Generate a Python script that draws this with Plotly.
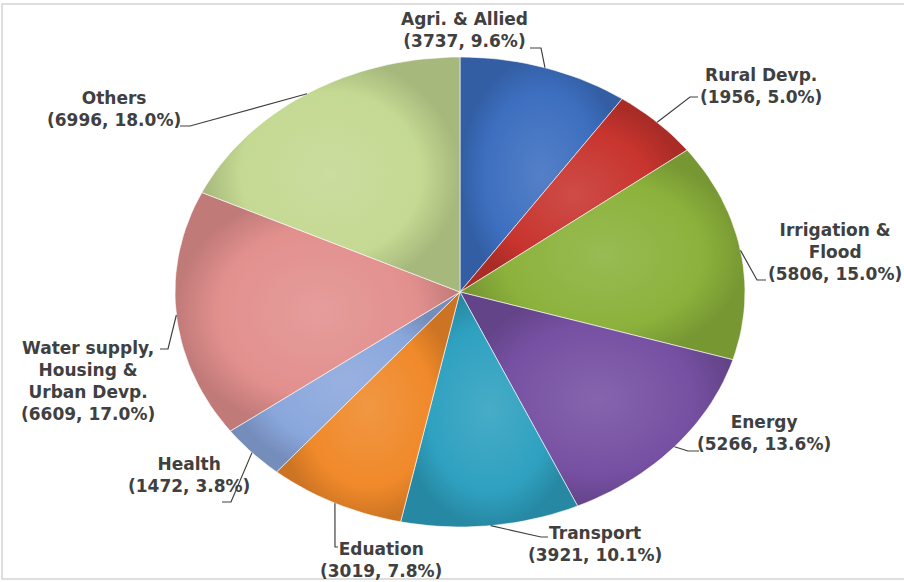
import numpy as np
import plotly.graph_objects as go

# Plan outlay by sector (Rs. crore), clockwise from 12 o'clock
sectors = ["Agri. & Allied", "Rural Devp.", "Irrigation &<br>Flood", "Energy",
           "Transport", "Eduation", "Health",
           "Water supply,<br>Housing &<br>Urban Devp.", "Others"]
outlay = [3737, 1956, 5806, 5266, 3921, 3019, 1472, 6609, 6996]
share_pct = [9.6, 5.0, 15.0, 13.6, 10.1, 7.8, 3.8, 17.0, 18.0]
colors = ["#3d6fc0", "#c8342e", "#8cb23c", "#7650a2", "#2fa1c0",
          "#f0892a", "#8aa7dc", "#e2908e", "#c4d992"]

# Canvas is laid out in pixel units; the pie is drawn as a tilted (elliptical) disc
W, H = 904, 582
CX, CY, RX, RY = 460, 292, 285, 235

# Label block centres and leader-line points on the label side
label_pos = [(464, 30), (761, 86), (835, 252), (764, 433), (595, 544),
             (381, 560), (189, 475), (88, 381), (114, 109)]
leader_start = [[(530, 48), (541, 48)], [(698, 97), (690, 97)],
                [(766, 280), (757, 280)], [(699, 451), (688, 451)],
                [(548, 537), (541, 537)], [(338, 547), (335, 547)],
                [(222, 502), (231, 502)], [(160, 349), (168, 349)],
                [(180, 126), (190, 126)]]


def ellipse_pt(theta):
    return CX + RX * np.sin(theta), CY - RY * np.cos(theta)


def shade(hex_col, f):
    r, g, b = (int(hex_col[i:i + 2], 16) for i in (1, 3, 5))
    if f >= 0:
        r, g, b = (c + (255 - c) * f for c in (r, g, b))
    else:
        r, g, b = (c * (1 + f) for c in (r, g, b))
    return f"rgb({int(r)},{int(g)},{int(b)})"


fig = go.Figure()
total = sum(outlay)
cum = 0.0
mids = []
for name, val, col in zip(sectors, outlay, colors):
    a0 = 2 * np.pi * cum / total
    a1 = 2 * np.pi * (cum + val) / total
    mids.append((a0 + a1) / 2)
    t = np.linspace(a0, a1, max(8, int(200 * val / total)))
    ex, ey = ellipse_pt(t)
    xs = np.concatenate([[CX], ex, [CX]])
    ys = np.concatenate([[CY], ey, [CY]])
    fig.add_trace(go.Scatter(
        x=xs, y=ys, mode="lines", fill="toself",
        fillcolor=col,
        fillgradient=dict(type="radial",
                          colorscale=[[0, shade(col, 0.12)], [0.7, col], [1, shade(col, -0.15)]]),
        line=dict(color="rgba(255,255,255,0.6)", width=1),
        hoverinfo="skip", showlegend=False))
    cum += val

# Leader lines from each label to the mid-angle point on the rim
for pts, m in zip(leader_start, mids):
    px, py = ellipse_pt(m)
    lx = [p[0] for p in pts] + [px]
    ly = [p[1] for p in pts] + [py]
    fig.add_trace(go.Scatter(x=lx, y=ly, mode="lines",
                             line=dict(color="#404040", width=1.2),
                             hoverinfo="skip", showlegend=False))

for name, val, pct, (lx, ly) in zip(sectors, outlay, share_pct, label_pos):
    fig.add_annotation(x=lx, y=ly, xref="x", yref="y", showarrow=False,
                       text=f"<b>{name}<br>({val}, {pct:.1f}%)</b>",
                       align="center", xanchor="center", yanchor="middle",
                       font=dict(family="DejaVu Sans", size=17, color="#404040"))

fig.add_shape(type="rect", xref="x", yref="y", x0=2, y0=4, x1=W + 5, y1=579,
              line=dict(color="#d4d4d4", width=1.5), fillcolor="rgba(0,0,0,0)", layer="below")

fig.update_xaxes(range=[0, W], visible=False, fixedrange=True)
fig.update_yaxes(range=[H, 0], visible=False, fixedrange=True)
fig.update_layout(width=W, height=H, margin=dict(l=0, r=0, t=0, b=0),
                  paper_bgcolor="white", plot_bgcolor="white")

fig.write_html("out.html")
